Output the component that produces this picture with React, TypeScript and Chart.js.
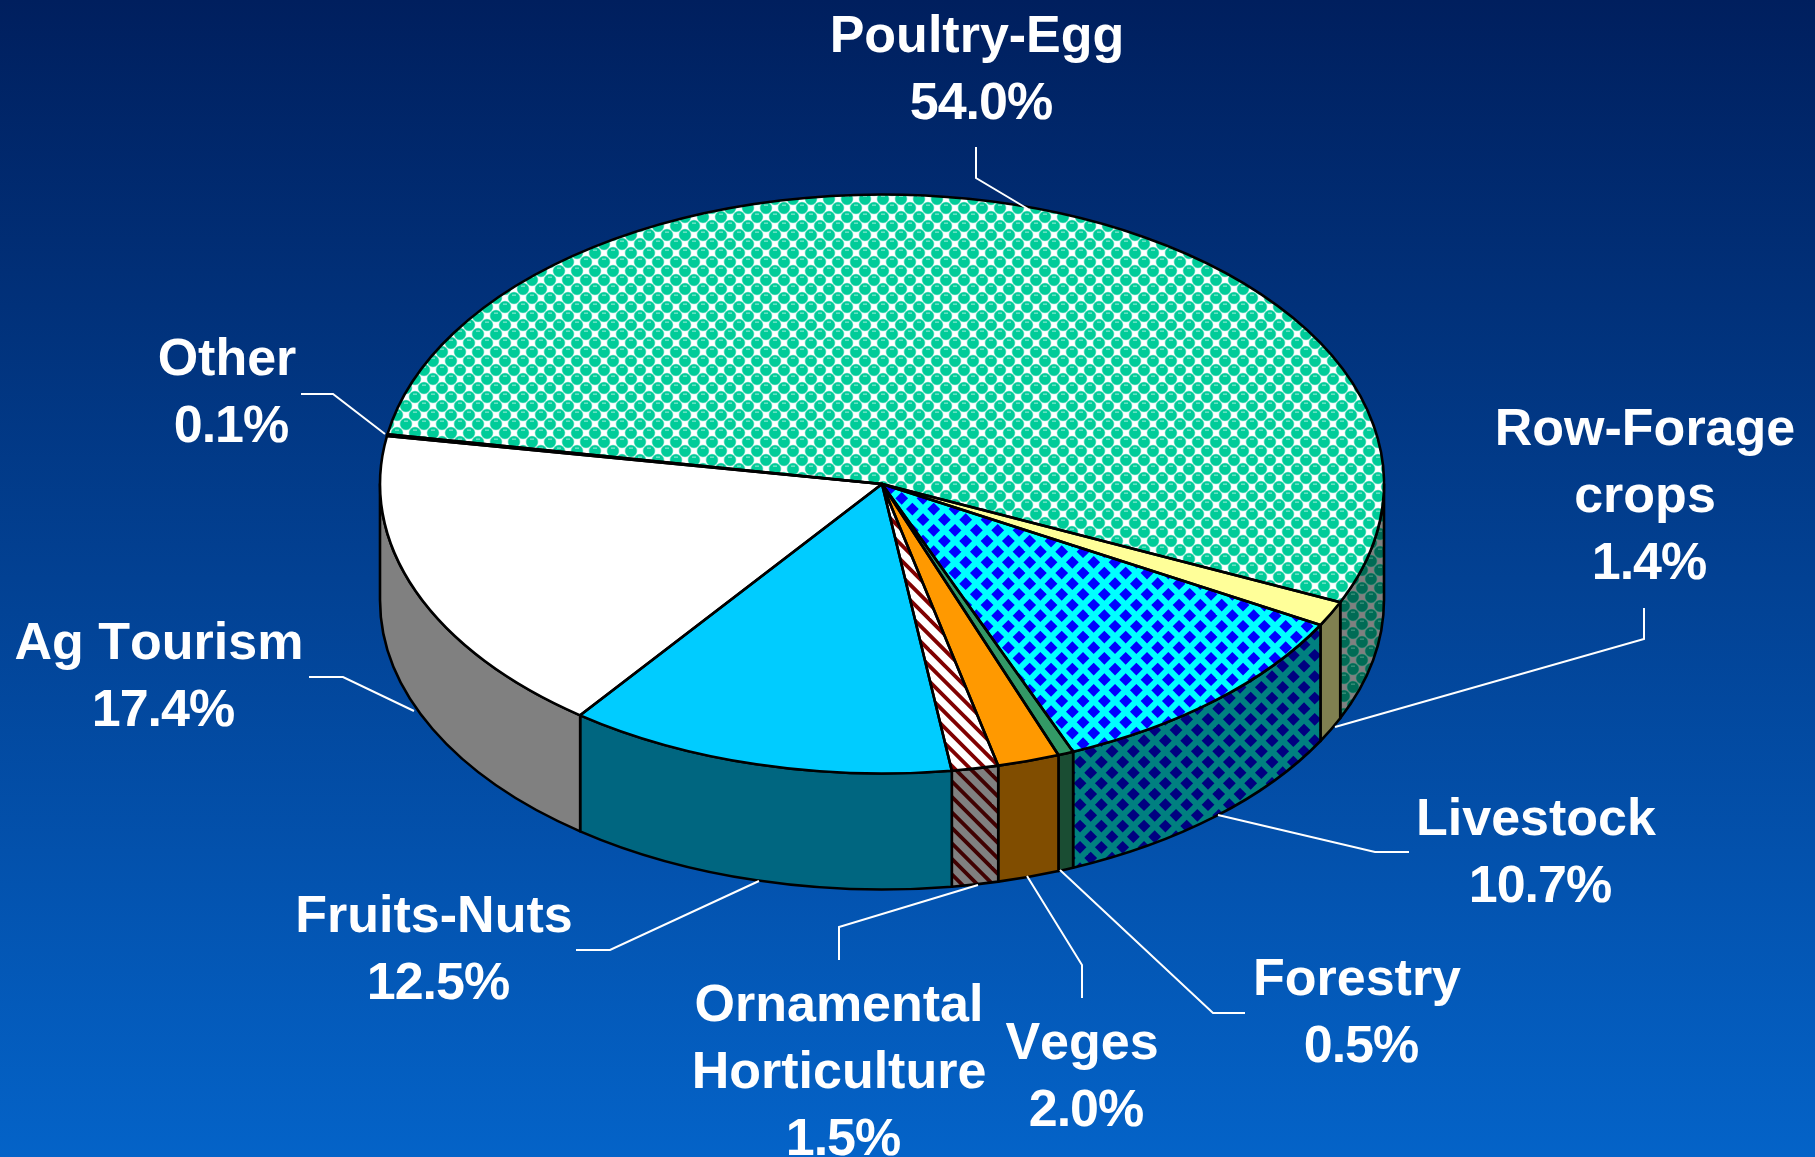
import React, { useEffect, useRef } from "react";
import { Chart, registerables } from "chart.js";

Chart.register(...registerables);

const categories = ["Poultry-Egg", "Row-Forage\ncrops", "Livestock", "Forestry", "Veges", "Ornamental\nHorticulture", "Fruits-Nuts", "Ag Tourism", "Other"];
const shares = [54.0, 1.4, 10.7, 0.5, 2.0, 1.5, 12.5, 17.4, 0.1];

// label anchor: centre x and first baseline
const labelX = [977, 1645, 1536, 1357, 1082, 839, 434, 159, 227];
const labelY = [52, 445, 835, 995, 1059, 1021, 932, 659, 375];
const leaders = [
  [[976, 147], [976, 178], [1028, 209]],
  [[1644, 608], [1644, 639], [1335, 727]],
  [[1409, 852], [1375, 852], [1218, 815]],
  [[1245, 1013], [1213, 1013], [1060, 870]],
  [[1082, 998], [1082, 965], [1027, 876]],
  [[839, 960], [839, 927], [978, 885]],
  [[576, 950], [610, 950], [759, 881]],
  [[309, 677], [343, 677], [414, 711]],
  [[301, 394], [333, 394], [385, 434]],
];

const CY = 484;
const RADIUS = 502;
const K = 0.5767;
const DEPTH = 116;
const LINE = 2.6;
const DOT_TILE = 54;
const DIAMOND_TILE = 64;
const STRIPE_TILE = 62;

function tile(size: number, draw: (c: CanvasRenderingContext2D) => void) {
  const cv = document.createElement("canvas");
  cv.width = size;
  cv.height = size;
  draw(cv.getContext("2d") as CanvasRenderingContext2D);
  return cv;
}

function lattice(size: number, px: number, py: number, each: (x: number, y: number) => void) {
  const step = size / 3;
  for (let i = -1; i <= 3; i++) {
    for (let j = -1; j <= 3; j++) {
      each(px + i * step, py + j * step);
      each(px + (i + 0.5) * step, py + (j + 0.5) * step);
    }
  }
}

function dots(bg: string, ring: string, dot: string, shine: string, px: number, py: number) {
  return tile(DOT_TILE, (c) => {
    c.fillStyle = bg;
    c.fillRect(0, 0, DOT_TILE, DOT_TILE);
    lattice(DOT_TILE, px, py, (x, y) => {
      c.fillStyle = ring;
      c.beginPath();
      c.arc(x, y, 6.3, 0, Math.PI * 2);
      c.fill();
    });
    lattice(DOT_TILE, px, py, (x, y) => {
      c.fillStyle = dot;
      c.beginPath();
      c.arc(x, y, 5.7, 0, Math.PI * 2);
      c.fill();
      c.fillStyle = shine;
      c.fillRect(x - 2, y - 3.6, 4, 1.6);
    });
  });
}

function diamonds(bg: string, fg: string, px: number, py: number) {
  return tile(DIAMOND_TILE, (c) => {
    c.fillStyle = bg;
    c.fillRect(0, 0, DIAMOND_TILE, DIAMOND_TILE);
    c.fillStyle = fg;
    lattice(DIAMOND_TILE, px, py, (x, y) => {
      c.beginPath();
      c.moveTo(x, y - 6.4);
      c.lineTo(x + 6.4, y);
      c.lineTo(x, y + 6.4);
      c.lineTo(x - 6.4, y);
      c.closePath();
      c.fill();
    });
  });
}

function stripes(bg: string, fg: string) {
  const period = STRIPE_TILE / 4;
  return tile(STRIPE_TILE, (c) => {
    c.fillStyle = bg;
    c.fillRect(0, 0, STRIPE_TILE, STRIPE_TILE);
    c.strokeStyle = fg;
    c.lineWidth = 3.8;
    for (let o = -STRIPE_TILE; o <= STRIPE_TILE; o += period) {
      c.beginPath();
      c.moveTo(o - 2, -2);
      c.lineTo(o + STRIPE_TILE + 2, STRIPE_TILE + 2);
      c.stroke();
    }
  });
}

export default function App() {
  const ref = useRef<HTMLCanvasElement>(null);
  useEffect(() => {
    const canvas = ref.current as HTMLCanvasElement;
    const ctx = canvas.getContext("2d") as CanvasRenderingContext2D;
    const mk = (cv: HTMLCanvasElement) => ctx.createPattern(cv, "repeat") as CanvasPattern;

    const topPatterns = [
      mk(dots("#ffffff", "#8fe6d0", "#00cc99", "#66e0c2", 10, 10)),
      mk(diamonds("#00ffff", "#0000ff", 5.7, 7.7)),
      mk(stripes("#ffffff", "#800000")),
    ];
    const topFills: any[] = [topPatterns[0], "#ffff99", topPatterns[1], "#339966", "#ff9900", topPatterns[2], "#00ccff", "#ffffff", "#ffffff"];
    const sideFills: any[] = [
      mk(dots("#808080", "#408c78", "#006b55", "#338a75", 3, 3)),
      "#808050",
      mk(diamonds("#008080", "#000080", 2.7, 4.7)),
      "#1a4d33",
      "#804d00",
      mk(stripes("#808080", "#400000")),
      "#006680",
      "#808080",
      "#808080",
    ];

    const pie3d = {
      id: "pie3d",
      beforeDraw(chart: any) {
        const c = chart.ctx;
        const g = c.createLinearGradient(0, 0, 0, 1157);
        g.addColorStop(0, "#001f5e");
        g.addColorStop(1, "#0463c8");
        c.fillStyle = g;
        c.fillRect(0, 0, 1815, 1157);
      },
      beforeDatasetsDraw(chart: any) {
        const c = chart.ctx;
        const arcs = chart.getDatasetMeta(0).data;
        const cx = arcs[0].x;
        const r = arcs[0].outerRadius;
        c.save();
        c.lineWidth = LINE;
        c.strokeStyle = "#000";
        c.lineJoin = "round";
        arcs.forEach((arc: any, i: number) => {
          for (const n of [-1, 0, 1, 2]) {
            const lo = Math.max(arc.startAngle, n * 2 * Math.PI);
            const hi = Math.min(arc.endAngle, n * 2 * Math.PI + Math.PI);
            if (hi <= lo) continue;
            c.beginPath();
            c.ellipse(cx, CY, r, r * K, 0, lo, hi);
            c.ellipse(cx, CY + DEPTH, r, r * K, 0, hi, lo, true);
            c.closePath();
            c.fillStyle = sideFills[i];
            c.fill();
            c.stroke();
          }
        });
        c.restore();
        const cy = arcs[0].y;
        // keep the fill patterns in page pixels under the squash applied to the pie
        const inverse = new DOMMatrix().translate(cx, cy).scale(1, 1 / K).translate(-cx, -CY);
        topPatterns.forEach((p) => p.setTransform(inverse));
        c.save();
        c.translate(cx, CY);
        c.scale(1, K);
        c.translate(-cx, -cy);
      },
      afterDatasetsDraw(chart: any) {
        const c = chart.ctx;
        c.restore();
        const arcs = chart.getDatasetMeta(0).data;
        const cx = arcs[0].x;
        const r = arcs[0].outerRadius;
        c.save();
        c.lineWidth = LINE;
        c.strokeStyle = "#000";
        c.lineJoin = "round";
        arcs.forEach((arc: any) => {
          c.beginPath();
          c.moveTo(cx, CY);
          c.ellipse(cx, CY, r, r * K, 0, arc.startAngle, arc.endAngle);
          c.closePath();
          c.stroke();
        });
        c.restore();

        c.save();
        c.strokeStyle = "#ffffff";
        c.lineWidth = 2;
        leaders.forEach((pts) => {
          c.beginPath();
          pts.forEach(([x, y], j) => (j ? c.lineTo(x, y) : c.moveTo(x, y)));
          c.stroke();
        });
        c.fillStyle = "#ffffff";
        c.font = 'bold 52px "Liberation Sans", Arial, sans-serif';
        c.fontKerning = "none";
        c.textAlign = "center";
        c.textBaseline = "alphabetic";
        chart.data.labels.forEach((name: string, i: number) => {
          const lines = name.split("\n");
          c.letterSpacing = "0px";
          lines.forEach((t, j) => c.fillText(t, labelX[i], labelY[i] + j * 67));
          c.letterSpacing = "-1px";
          c.fillText(`${shares[i].toFixed(1)}%`, labelX[i] + 4, labelY[i] + lines.length * 67);
        });
        c.restore();
      },
    };

    const chart = new Chart(canvas, {
      type: "pie",
      data: {
        labels: categories,
        datasets: [{ data: shares, backgroundColor: topFills, borderWidth: 0, clip: false } as any],
      },
      options: {
        responsive: false,
        animation: false,
        radius: RADIUS,
        rotation: 279.9,
        layout: { padding: { right: 51 } },
        plugins: { legend: { display: false }, tooltip: { enabled: false } },
      } as any,
      plugins: [pie3d],
    });
    return () => chart.destroy();
  }, []);
  return (
    <canvas
      ref={ref}
      width={1815}
      height={1157}
      style={{ position: "absolute", left: 0, top: 0, display: "block", width: 1815, height: 1157 }}
    />
  );
}
